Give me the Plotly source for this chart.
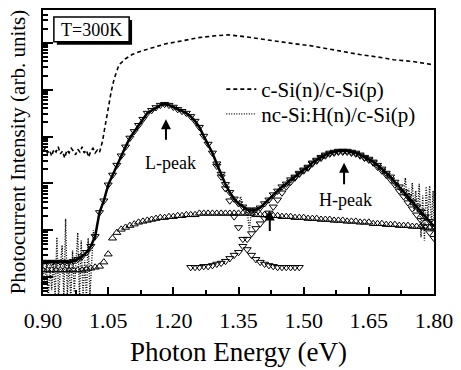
import numpy as np
import plotly.graph_objects as go

# ---------------- data (log10 of photocurrent, arb. units) ----------------
grid_E = [round(0.90 + 0.01 * i, 2) for i in range(91)]

# fitted total (solid line + down triangles)
total_log = [0.32, 0.32, 0.32, 0.32, 0.32, 0.32, 0.32, 0.34, 0.38, 0.44,
             0.53, 0.66, 0.87, 1.38, 1.63, 1.97, 2.18, 2.39, 2.59, 2.78,
             2.97, 3.11, 3.24, 3.37, 3.50, 3.56, 3.62, 3.67, 3.69, 3.67,
             3.63, 3.58, 3.54, 3.50, 3.43, 3.33, 3.20, 3.01, 2.84, 2.65,
             2.42, 2.20, 1.98, 1.81, 1.67, 1.57, 1.50, 1.44, 1.42, 1.44,
             1.48, 1.57, 1.65, 1.76, 1.84, 1.93, 1.99, 2.08, 2.14, 2.22,
             2.29, 2.35, 2.44, 2.50, 2.56, 2.61, 2.65, 2.67, 2.69, 2.69,
             2.69, 2.67, 2.65, 2.61, 2.56, 2.52, 2.46, 2.39, 2.31, 2.22,
             2.14, 2.03, 1.93, 1.82, 1.72, 1.61, 1.50, 1.40, 1.29, 1.19,
             1.08]

# broad component (up triangles)
broad_log = [0.15, 0.15, 0.15, 0.15, 0.15, 0.15, 0.15, 0.15, 0.15, 0.15,
             0.17, 0.19, 0.21, 0.23, 0.32, 0.49, 0.83, 0.95, 1.02, 1.06,
             1.10, 1.13, 1.17, 1.19, 1.21, 1.23, 1.25, 1.27, 1.27, 1.29,
             1.29, 1.31, 1.31, 1.33, 1.33, 1.33, 1.36, 1.36, 1.36, 1.36,
             1.36, 1.36, 1.36, 1.36, 1.36, 1.36, 1.36, 1.36, 1.36, 1.33,
             1.33, 1.33, 1.31, 1.31, 1.31, 1.29, 1.29, 1.29, 1.27, 1.27,
             1.27, 1.25, 1.25, 1.25, 1.23, 1.23, 1.23, 1.21, 1.21, 1.21,
             1.19, 1.19, 1.19, 1.17, 1.17, 1.17, 1.14, 1.14, 1.14, 1.12,
             1.12, 1.12, 1.10, 1.10, 1.10, 1.08, 1.08, 1.08, 1.06, 1.06,
             1.04]

# L-peak component, descending tail
lcomp_E = [1.30, 1.31, 1.32, 1.33, 1.34, 1.35, 1.36, 1.37, 1.38, 1.39,
           1.40, 1.41, 1.42, 1.43, 1.44, 1.45, 1.46, 1.47, 1.48, 1.49]
lcomp_log = [2.37, 2.14, 1.89, 1.63, 1.29, 1.06, 0.81, 0.59, 0.47, 0.38,
             0.32, 0.28, 0.25, 0.23, 0.21, 0.21, 0.21, 0.21, 0.21, 0.21]

# H-peak component
hcomp_E = [round(1.24 + 0.01 * i, 2) for i in range(57)]
hcomp_log = [0.21, 0.21, 0.21, 0.23, 0.23, 0.25, 0.28, 0.30, 0.34, 0.40,
             0.47, 0.53, 0.66, 0.81, 0.93, 1.04, 1.14, 1.25, 1.37, 1.50,
             1.65, 1.80, 1.93, 2.03, 2.12, 2.20, 2.27, 2.33, 2.42, 2.48,
             2.54, 2.59, 2.63, 2.65, 2.67, 2.67, 2.67, 2.65, 2.63, 2.59,
             2.54, 2.50, 2.44, 2.35, 2.27, 2.18, 2.08, 1.97, 1.84, 1.72,
             1.59, 1.46, 1.33, 1.21, 1.08, 0.95, 0.83]

# measured nc-Si:H(n)/c-Si(p) (dotted)
ncsi_E = [0.900, 0.904, 0.908, 0.912, 0.916, 0.920, 0.924, 0.928, 0.932, 0.936,
          0.940, 0.944, 0.948, 0.952, 0.956, 0.960, 0.964, 0.968, 0.972, 0.976,
          0.980, 0.984, 0.988, 0.992, 0.996, 1.000, 1.004, 1.008, 1.012, 1.016,
          1.020, 1.024, 1.028, 1.035,
          1.04, 1.05, 1.06, 1.07, 1.08, 1.09, 1.10, 1.11, 1.12, 1.13,
          1.14, 1.15, 1.16, 1.17, 1.18, 1.19, 1.20, 1.21, 1.22, 1.23,
          1.24, 1.25, 1.26, 1.27, 1.28, 1.29, 1.30, 1.31, 1.32, 1.33,
          1.34, 1.35, 1.355, 1.36, 1.37, 1.375, 1.38, 1.385, 1.39, 1.40,
          1.41, 1.42, 1.43, 1.44, 1.45, 1.46, 1.47, 1.48, 1.49, 1.50,
          1.51, 1.52, 1.53, 1.54, 1.55, 1.56, 1.57, 1.58, 1.59, 1.60,
          1.61, 1.62, 1.63, 1.64, 1.65, 1.66, 1.67, 1.68, 1.69, 1.70,
          1.71, 1.72, 1.73,
          1.734, 1.738, 1.742, 1.746, 1.750, 1.754, 1.758, 1.762, 1.766, 1.770,
          1.774, 1.778, 1.782, 1.786, 1.790, 1.794, 1.798, 1.800]
ncsi_log = [0.19, -0.17, 0.32, -0.49, 0.25, -0.28, 0.32, -0.44, 0.85, -0.49,
            0.23, 0.68, -0.49, 1.25, -0.40, 0.32, -0.49, 0.57, -0.32, 0.28,
            0.95, -0.49, 0.78, -0.44, 0.36, -0.49, 0.83, -0.40, 0.47, 1.00,
            0.78, 1.04, 1.33, 1.50,
            1.64, 1.96, 2.19, 2.38, 2.60, 2.77, 2.98, 3.10, 3.25, 3.36,
            3.51, 3.55, 3.63, 3.66, 3.70, 3.66, 3.63, 3.57, 3.55, 3.49,
            3.44, 3.32, 3.21, 3.00, 2.85, 2.64, 2.43, 2.21, 1.97, 1.78,
            1.70, 1.55, 1.72, 1.52, 1.41, 1.00, 1.45, 1.30, 1.40, 1.50,
            1.55, 1.67, 1.74, 1.86, 1.92, 2.01, 2.07, 2.15, 2.21, 2.30,
            2.34, 2.45, 2.49, 2.57, 2.60, 2.66, 2.66, 2.70, 2.68, 2.70,
            2.66, 2.66, 2.60, 2.57, 2.51, 2.47, 2.38, 2.32, 2.21, 2.15,
            2.02, 1.95, 1.80,
            2.12, 1.67, 1.89, 1.53, 2.01, 1.42, 1.84, 1.38, 1.99, 0.85,
            1.74, 0.78, 1.93, 1.25, 1.95, 1.10, 1.84, 1.17]

# measured c-Si(n)/c-Si(p) (dashed)
csi_E = [0.900, 0.905, 0.910, 0.915, 0.920, 0.925, 0.930, 0.935, 0.940, 0.945,
         0.950, 0.955, 0.960, 0.965, 0.970, 0.975, 0.980, 0.985, 0.990, 0.995,
         1.000, 1.005, 1.010, 1.015, 1.020, 1.025, 1.030,
         1.037, 1.041, 1.046, 1.051, 1.057, 1.064, 1.075, 1.090, 1.105, 1.125,
         1.144, 1.165, 1.183, 1.219, 1.258, 1.296, 1.326, 1.365, 1.401, 1.440,
         1.479, 1.515, 1.554, 1.593, 1.629, 1.668, 1.707, 1.752, 1.800]
csi_log = [2.69, 2.75, 2.65, 2.71, 2.58, 2.73, 2.67, 2.78, 2.63, 2.69,
           2.54, 2.71, 2.65, 2.75, 2.69, 2.61, 2.73, 2.67, 2.78, 2.65,
           2.71, 2.56, 2.69, 2.75, 2.65, 2.71, 2.66,
           2.90, 3.12, 3.39, 3.70, 3.96, 4.24, 4.53, 4.66, 4.75, 4.82,
           4.87, 4.93, 4.98, 5.04, 5.11, 5.15, 5.17, 5.13, 5.08, 5.02,
           4.98, 4.94, 4.87, 4.81, 4.75, 4.70, 4.64, 4.60, 4.53]

x_ticks = [0.90, 1.05, 1.20, 1.35, 1.50, 1.65, 1.80]
x_ticktext = ["0.90", "1.05", "1.20", "1.35", "1.50", "1.65", "1.80"]
x_minor = [0.975, 1.125, 1.275, 1.425, 1.575, 1.725]
y_decades = [1, 10, 100, 1e3, 1e4, 1e5]
y_minor = [m * 10.0 ** k for k in range(-1, 6) for m in range(2, 10)]

def pw(v):
    return 10.0 ** np.array(v)

FONT = "Liberation Serif, Times New Roman, Times, DejaVu Serif, serif"
fig = go.Figure()

tri = dict(size=7, color="black", line=dict(width=1, color="black"))

fig.add_trace(go.Scatter(x=grid_E, y=pw(broad_log), mode="markers",
                         marker=dict(symbol="triangle-up-open", **tri),
                         showlegend=False))
fig.add_trace(go.Scatter(x=hcomp_E, y=pw(hcomp_log), mode="markers",
                         marker=dict(symbol="triangle-down-open", **tri),
                         showlegend=False))
fig.add_trace(go.Scatter(x=lcomp_E, y=pw(lcomp_log), mode="markers",
                         marker=dict(symbol="triangle-down-open", **tri),
                         showlegend=False))
fig.add_trace(go.Scatter(x=grid_E, y=pw(total_log), mode="lines+markers",
                         line=dict(color="black", width=2.5),
                         marker=dict(symbol="triangle-down-open", **tri),
                         showlegend=False))
fig.add_trace(go.Scatter(x=csi_E, y=pw(csi_log), mode="lines",
                         name="c-Si(n)/c-Si(p)", legend="legend",
                         line=dict(color="black", width=1.6, dash="4px,3px")))
fig.add_trace(go.Scatter(x=ncsi_E, y=pw(ncsi_log), mode="lines",
                         name="nc-Si:H(n)/c-Si(p)", legend="legend2",
                         line=dict(color="black", width=1.4, dash="1px,1.5px")))

leg_common = dict(xanchor="left", yanchor="middle",
                  font=dict(size=21, family=FONT, color="black"),
                  bgcolor="rgba(0,0,0,0)", itemwidth=30)

fig.update_layout(
    width=461, height=370,
    margin=dict(l=43, r=23, t=8, b=76),
    plot_bgcolor="white", paper_bgcolor="white",
    font=dict(family=FONT, color="black"),
    legend=dict(x=0.456, y=0.720, **leg_common),
    legend2=dict(x=0.456, y=0.633, **leg_common),
    xaxis=dict(range=[0.9, 1.8], tickmode="array", tickvals=x_ticks,
               ticktext=x_ticktext, ticks="inside", ticklen=7, tickwidth=2,
               tickcolor="black", showline=True, linecolor="black",
               linewidth=2, mirror=True, showgrid=False, zeroline=False,
               tickfont=dict(size=22, family=FONT), ticklabelstandoff=6,
               minor=dict(tickmode="array", tickvals=x_minor, ticks="inside",
                          ticklen=4, tickwidth=1.5, tickcolor="black")),
    yaxis=dict(type="log", range=[-0.36, 5.70], tickmode="array",
               tickvals=y_decades, showticklabels=False, ticks="inside",
               ticklen=10, tickwidth=2, tickcolor="black", showline=True,
               linecolor="black", linewidth=2, mirror=True, showgrid=False,
               zeroline=False,
               minor=dict(tickmode="array", tickvals=y_minor, ticks="inside",
                          ticklen=5, tickwidth=1.5, tickcolor="black")),
)

ann = []
ann.append(dict(x=0.5, y=-0.203, xref="paper", yref="paper",
                text="Photon Energy (eV)", showarrow=False,
                font=dict(size=27, family=FONT), xanchor="center", yanchor="middle"))
ann.append(dict(x=-0.063, y=0.50, xref="paper", yref="paper",
                text="Photocurrent Intensity (arb. units)", showarrow=False,
                textangle=-90, font=dict(size=21, family=FONT),
                xanchor="center", yanchor="middle"))
# arrows
for (xa, y_tip, y_tail) in [(1.183, 3.37, 2.90), (1.593, 2.44, 1.95), (1.422, 1.42, 0.95)]:
    ann.append(dict(x=xa, y=y_tip, ax=xa, ay=y_tail, xref="x", yref="y",
                    axref="x", ayref="y", text="", showarrow=True,
                    arrowhead=2, arrowsize=1, arrowwidth=2, arrowcolor="black"))
ann.append(dict(x=1.194, y=2.44, xref="x", yref="y", text="L-peak",
                showarrow=False, font=dict(size=18, family=FONT)))
ann.append(dict(x=1.597, y=1.65, xref="x", yref="y", text="H-peak",
                showarrow=False, font=dict(size=18, family=FONT)))
ann.append(dict(x=0.124, y=0.930, xref="paper", yref="paper", text="T=300K",
                showarrow=False, font=dict(size=18, family=FONT),
                xanchor="center", yanchor="middle"))
fig.update_layout(annotations=ann)

# label box with drop shadow (below traces / text)
fig.add_shape(type="rect", xref="paper", yref="paper",
              x0=0.0354, x1=0.2278, y0=0.8776, y1=0.965,
              fillcolor="black", line=dict(width=0), layer="below")
fig.add_shape(type="rect", xref="paper", yref="paper",
              x0=0.0278, x1=0.2203, y0=0.8881, y1=0.9755,
              fillcolor="white", line=dict(width=1.5, color="black"), layer="below")

fig.write_html("out.html")
